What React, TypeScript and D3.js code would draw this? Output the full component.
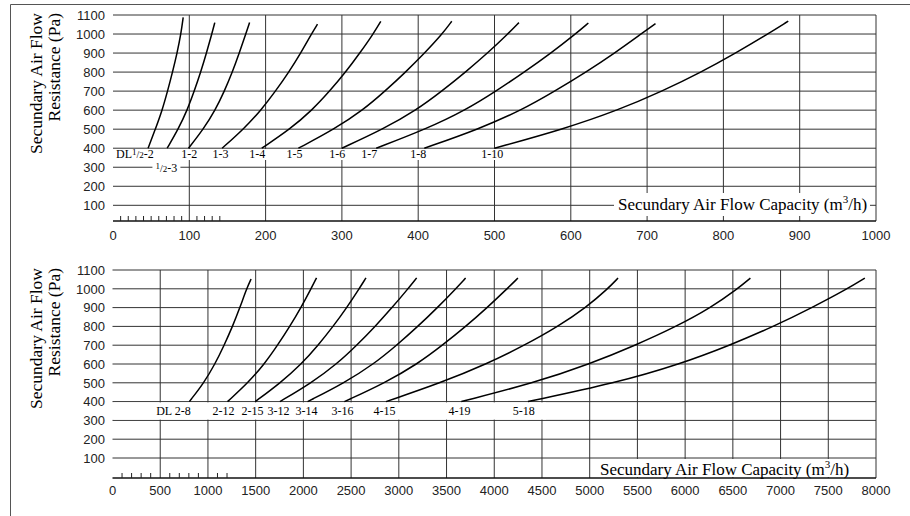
import React from 'react';
import * as d3 from 'd3';

// ---------- data ----------
const topXTicks = [0, 100, 200, 300, 400, 500, 600, 700, 800, 900, 1000];
const bottomXTicks = [0, 500, 1000, 1500, 2000, 2500, 3000, 3500, 4000, 4500, 5000, 5500, 6000, 6500, 7000, 7500, 8000];
const yTicks = [100, 200, 300, 400, 500, 600, 700, 800, 900, 1000, 1100];
const topMinorTicks = [10, 20, 30, 40, 50, 60, 70, 80, 90, 110, 120, 130, 140];
const bottomMinorTicks = [100, 200, 300, 400, 600, 700, 800, 900, 1100, 1200];

// [capacity m3/h, resistance Pa]
const dlHalf2: [number, number][] = [[46, 400], [55.5, 500], [64.5, 600], [71.5, 700], [78, 800], [84, 900], [89, 1000], [92, 1088]];
const half3: [number, number][] = [[71, 400], [85.5, 500], [97.3, 600], [106.5, 700], [115, 800], [122.5, 900], [129.5, 1000], [133.4, 1060]];
const s1_2: [number, number][] = [[99, 400], [118.5, 500], [134, 600], [146, 700], [156.5, 800], [165.5, 900], [174, 1000], [179, 1060]];
const s1_3: [number, number][] = [[143, 400], [171, 500], [194, 600], [213, 700], [230.5, 800], [246, 900], [260, 1000], [268, 1052]];
const s1_4: [number, number][] = [[195, 400], [232, 500], [261, 600], [284, 700], [305, 800], [323.5, 900], [341, 1000], [351, 1067]];
const s1_5: [number, number][] = [[243, 400], [290, 500], [327.5, 600], [356.5, 700], [383.5, 800], [408.5, 900], [431.5, 1000], [444, 1067]];
const s1_6: [number, number][] = [[300, 400], [354, 500], [397.5, 600], [431, 700], [462, 800], [491, 900], [517.5, 1000], [532, 1060]];
const s1_7: [number, number][] = [[345, 400], [410, 500], [462, 600], [502, 700], [539, 800], [574, 900], [606, 1000], [623, 1058]];
const s1_8: [number, number][] = [[408, 400], [479, 500], [535.5, 600], [579, 700], [620, 800], [657.5, 900], [692, 1000], [711, 1055]];
const s1_10: [number, number][] = [[500, 400], [590, 500], [662, 600], [720, 700], [771, 800], [816, 900], [858, 1000], [885, 1068]];

const s2_8: [number, number][] = [[805, 400], [958, 500], [1074, 600], [1170, 700], [1258, 800], [1335, 900], [1405, 1000], [1452, 1052]];
const s2_12: [number, number][] = [[1205, 400], [1420, 500], [1592, 600], [1730, 700], [1858, 800], [1975, 900], [2080, 1000], [2138, 1058]];
const s2_15: [number, number][] = [[1495, 400], [1760, 500], [1980, 600], [2155, 700], [2312, 800], [2455, 900], [2584, 1000], [2656, 1058]];
const s3_12: [number, number][] = [[1754, 400], [2085, 500], [2350, 600], [2560, 700], [2752, 800], [2930, 900], [3096, 1000], [3187, 1058]];
const s3_14: [number, number][] = [[2044, 400], [2430, 500], [2738, 600], [2978, 700], [3200, 800], [3405, 900], [3596, 1000], [3700, 1057]];
const s3_16: [number, number][] = [[2430, 400], [2855, 500], [3195, 600], [3458, 700], [3702, 800], [3926, 900], [4134, 1000], [4248, 1057]];
const s4_15: [number, number][] = [[2866, 400], [3440, 500], [3920, 600], [4320, 700], [4670, 800], [4960, 900], [5190, 1000], [5297, 1057]];
const s4_19: [number, number][] = [[3655, 400], [4420, 500], [5000, 600], [5480, 700], [5910, 800], [6270, 900], [6550, 1000], [6684, 1057]];
const s5_18: [number, number][] = [[4353, 400], [5280, 500], [5950, 600], [6470, 700], [6930, 800], [7330, 900], [7700, 1000], [7883, 1057]];

const topCurves = [dlHalf2, half3, s1_2, s1_3, s1_4, s1_5, s1_6, s1_7, s1_8, s1_10];
const bottomCurves = [s2_8, s2_12, s2_15, s3_12, s3_14, s3_16, s4_15, s4_19, s5_18];

// label text, anchor value on x axis, text-anchor
const topLabels = [
  { text: 'DL½-2', at: 4, anchor: 'start' },
  { text: '1-2', at: 100, anchor: 'middle' },
  { text: '1-3', at: 141, anchor: 'middle' },
  { text: '1-4', at: 189, anchor: 'middle' },
  { text: '1-5', at: 238, anchor: 'middle' },
  { text: '1-6', at: 294, anchor: 'middle' },
  { text: '1-7', at: 336, anchor: 'middle' },
  { text: '1-8', at: 400, anchor: 'middle' },
  { text: '1-10', at: 497, anchor: 'middle' },
];
const topLowLabel = { text: '½-3', at: 70 };
const bottomLabels = [
  { text: 'DL 2-8', at: 458, anchor: 'start' },
  { text: '2-12', at: 1163, anchor: 'middle' },
  { text: '2-15', at: 1467, anchor: 'middle' },
  { text: '3-12', at: 1740, anchor: 'middle' },
  { text: '3-14', at: 2033, anchor: 'middle' },
  { text: '3-16', at: 2411, anchor: 'middle' },
  { text: '4-15', at: 2851, anchor: 'middle' },
  { text: '4-19', at: 3637, anchor: 'middle' },
  { text: '5-18', at: 4308, anchor: 'middle' },
];

const yTitle1 = 'Secundary Air Flow';
const yTitle2 = 'Resistance (Pa)';
const xTitleA = 'Secundary Air Flow Capacity (m';
const xTitleB = '/h)';

const SERIF = '"Liberation Serif","Times New Roman",Times,serif';
const SANS = '"Liberation Sans",Arial,Helvetica,sans-serif';
const GRID = '#333';

function LabelText({ text }: { text: string }) {
  const parts = text.split('½');
  if (parts.length === 1) return <>{text}</>;
  return (
    <>
      {parts[0]}
      <tspan fontSize={9} dy={-3}>1</tspan>
      <tspan fontSize={10} dy={3}>/</tspan>
      <tspan fontSize={9}>2</tspan>
      {parts[1]}
    </>
  );
}

interface PanelProps {
  xMax: number;
  xTicks: number[];
  xPx: [number, number];
  y1100: number;
  y100: number;
  axisY: number;
  tickLabelY: number;
  minor: number[];
  curves: [number, number][][];
  labels: { text: string; at: number; anchor: string }[];
  labelY: number;
  bandRight: number;
  bandBottom: number;
  lowLabel?: { text: string; at: number };
  title: { x: number; y: number; rx: number; ry: number; rw: number; rh: number };
  yTitleEnd: number;
}

function Panel(p: PanelProps) {
  const x = d3.scaleLinear().domain([0, p.xMax]).range(p.xPx);
  const y = d3.scaleLinear().domain([100, 1100]).range([p.y100, p.y1100]);
  const line = d3
    .line<[number, number]>()
    .x((d) => x(d[0]))
    .y((d) => y(d[1]))
    .curve(d3.curveBasis);
  const x0 = x(0);
  const x1 = x(p.xMax);
  return (
    <g>
      {yTicks.map((t) => (
        <line key={'h' + t} x1={x0} x2={x1} y1={y(t)} y2={y(t)} stroke={GRID} strokeWidth={1} />
      ))}
      {p.xTicks.filter((t) => t > 0).map((t) => (
        <line key={'v' + t} x1={x(t)} x2={x(t)} y1={p.axisY} y2={y(1100)} stroke={GRID} strokeWidth={1} />
      ))}
      <line x1={x0} x2={x1} y1={p.axisY} y2={p.axisY} stroke="#111" strokeWidth={1.5} />
      {p.minor.map((t) => (
        <line key={'m' + t} x1={x(t)} x2={x(t)} y1={p.axisY} y2={p.axisY - 5} stroke="#222" strokeWidth={1} />
      ))}
      <rect x={x0 + 1} y={y(400) + 0.8} width={p.bandRight - x0} height={p.bandBottom - y(400) - 0.8} fill="#fff" />
      {p.curves.map((c, i) => (
        <path key={'c' + i} d={line(c) || ''} fill="none" stroke="#000" strokeWidth={1.5} />
      ))}
      {p.labels.map((l) => (
        <text key={l.text} x={x(l.at)} y={p.labelY} fontFamily={SERIF} fontSize={12} textAnchor={l.anchor} fill="#000">
          <LabelText text={l.text} />
        </text>
      ))}
      {p.lowLabel && (
        <g>
          <rect x={x(p.lowLabel.at) - 14} y={y(300) - 6} width={28} height={12} fill="#fff" />
          <text x={x(p.lowLabel.at)} y={y(300) + 4.3} fontFamily={SERIF} fontSize={12} textAnchor="middle" fill="#000">
            <LabelText text={p.lowLabel.text} />
          </text>
        </g>
      )}
      <rect x={p.title.rx} y={p.title.ry} width={p.title.rw} height={p.title.rh} fill="#fff" />
      <text x={p.title.x} y={p.title.y} fontFamily={SERIF} fontSize={17} fill="#000">
        {xTitleA}
        <tspan fontSize={11} dy={-7}>3</tspan>
        <tspan dy={7}>{xTitleB}</tspan>
      </text>
      {p.xTicks.map((t) => (
        <text key={'xl' + t} x={x(t)} y={p.tickLabelY} fontFamily={SANS} fontSize={13} textAnchor="middle" fill="#222">
          {t}
        </text>
      ))}
      {yTicks.map((t) => (
        <text key={'yl' + t} x={105} y={y(t) + 4.7} fontFamily={SANS} fontSize={13} textAnchor="end" fill="#222">
          {t}
        </text>
      ))}
      <text transform={`translate(41.5,${p.yTitleEnd}) rotate(-90)`} fontFamily={SERIF} fontSize={17.5} textAnchor="end" fill="#000">
        {yTitle1}
      </text>
      <text transform={`translate(59.5,${p.yTitleEnd}) rotate(-90)`} fontFamily={SERIF} fontSize={17.5} textAnchor="end" fill="#000">
        {yTitle2}
      </text>
    </g>
  );
}

export default function App() {
  return (
    <svg width={910} height={516} style={{ position: 'absolute', left: 0, top: 0, background: '#fff' }}>
      <rect x={0} y={0} width={910} height={516} fill="#fff" />
      <line x1={10.5} y1={4.5} x2={910} y2={4.5} stroke="#555" strokeWidth={1} />
      <line x1={10.5} y1={4.5} x2={10.5} y2={516} stroke="#555" strokeWidth={1} />
      <Panel
        xMax={1000}
        xTicks={topXTicks}
        xPx={[113, 876]}
        y1100={15}
        y100={205.3}
        axisY={221}
        tickLabelY={240}
        minor={topMinorTicks}
        curves={topCurves}
        labels={topLabels}
        labelY={158}
        bandRight={506}
        bandBottom={160}
        lowLabel={topLowLabel}
        title={{ x: 618, y: 210, rx: 614, ry: 193, rw: 256, rh: 23 }}
        yTitleEnd={13}
      />
      <Panel
        xMax={8000}
        xTicks={bottomXTicks}
        xPx={[112.5, 876]}
        y1100={270}
        y100={458}
        axisY={478}
        tickLabelY={495}
        minor={bottomMinorTicks}
        curves={bottomCurves}
        labels={bottomLabels}
        labelY={415}
        bandRight={545}
        bandBottom={419.6}
        title={{ x: 600, y: 475, rx: 596, ry: 459, rw: 255, rh: 18 }}
        yTitleEnd={268}
      />
    </svg>
  );
}
